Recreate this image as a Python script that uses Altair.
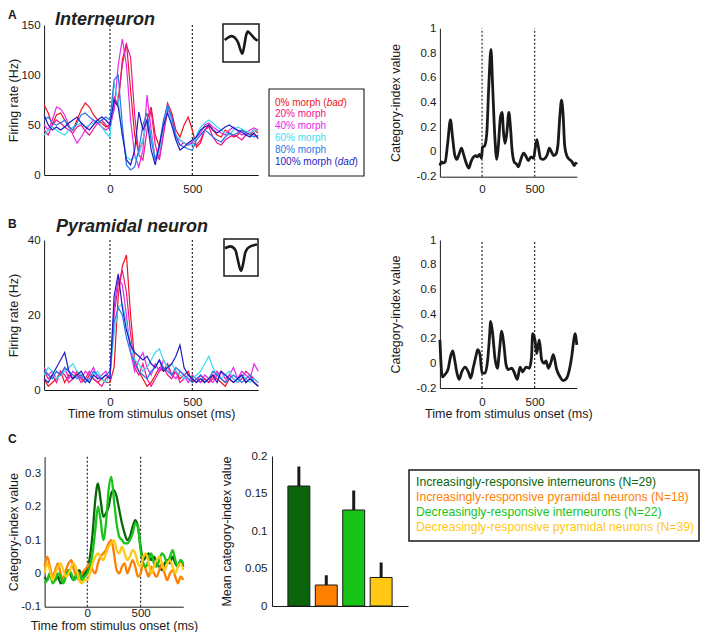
import altair as alt
import pandas as pd

FONT = "Liberation Sans"
INK = "#1a1a1a"
W, H = 692, 624

# ---------------- shared time grid (ms) ----------------
T25 = list(range(-400, 901, 25))

# ---------------- panel A/B: firing rates per morph level ----------------
MORPH_NAMES = ["0% morph", "20% morph", "40% morph", "60% morph", "80% morph", "100% morph"]
MORPH_COLORS = ["#f0141e", "#f0148c", "#e628e6", "#3cdcf0", "#2878eb", "#1e1ec3"]

A_0 = [70, 62, 50, 60, 62, 55, 48, 45, 55, 65, 72, 68, 60, 55, 52, 48,
       50, 78, 70, 115, 132, 85, 40, 22, 35, 55, 68, 40, 28, 50, 72, 62, 45, 38, 50, 58, 45,
       28, 32, 45, 50, 45, 40, 38, 45, 42, 38, 40, 45, 43, 40, 45, 42]
A_20 = [45, 40, 50, 55, 52, 48, 45, 42, 48, 50, 44, 40, 46, 52, 55, 50,
        46, 70, 75, 110, 130, 118, 60, 20, 15, 45, 65, 30, 15, 40, 65, 60, 40, 30, 32, 30, 32,
        30, 35, 45, 48, 38, 32, 30, 35, 38, 40, 38, 35, 40, 42, 40, 38]
A_40 = [50, 45, 55, 68, 66, 60, 50, 40, 32, 38, 45, 50, 55, 52, 48, 45,
        48, 65, 110, 136, 110, 55, 20, 8, 25, 80, 45, 15, 18, 45, 68, 55, 38, 35, 32, 30, 33,
        38, 42, 50, 52, 48, 45, 42, 40, 45, 48, 44, 40, 42, 45, 47, 45]
A_60 = [40, 45, 48, 45, 42, 40, 45, 48, 50, 52, 48, 50, 52, 55, 48, 42,
        38, 92, 75, 40, 18, 15, 18, 20, 35, 55, 40, 15, 25, 50, 70, 55, 40, 35, 32, 30, 30,
        40, 48, 52, 55, 52, 48, 45, 42, 40, 45, 48, 46, 44, 42, 45, 44]
A_80 = [55, 58, 52, 50, 52, 55, 48, 45, 52, 60, 62, 58, 55, 52, 55, 58,
        55, 95, 100, 50, 10, 5, 8, 25, 50, 62, 35, 15, 30, 55, 70, 58, 38, 30, 28, 26, 25,
        35, 40, 45, 42, 38, 35, 33, 38, 42, 40, 42, 45, 42, 40, 38, 40]
A_100 = [60, 50, 45, 48, 45, 48, 52, 55, 58, 52, 48, 45, 50, 55, 58, 55,
         50, 75, 68, 40, 15, 10, 25, 63, 45, 55, 25, 10, 30, 50, 62, 50, 35, 25, 28, 32, 35,
         38, 45, 48, 50, 45, 42, 45, 48, 50, 47, 45, 43, 40, 38, 42, 36]

B_0 = [3, 1, 2, 3, 5, 2, 4, 3, 5, 3, 2, 4, 3, 2, 3, 2,
       2, 6, 25, 33, 36, 20, 8, 5, 3, 1, 2, 4, 6, 5, 7, 4, 5, 3, 4, 5, 2,
       3, 2, 3, 2, 4, 3, 2, 1, 3, 2, 3, 4, 2, 3, 2, 1]
B_20 = [5, 3, 4, 2, 5, 4, 2, 3, 4, 2, 3, 5, 3, 2, 1, 3,
        4, 20, 28, 32, 26, 15, 6, 4, 7, 3, 1, 3, 5, 6, 4, 3, 5, 2, 3, 4, 3,
        2, 4, 3, 2, 3, 5, 3, 2, 4, 3, 2, 3, 5, 4, 3, 2]
B_40 = [6, 4, 5, 3, 4, 6, 3, 5, 4, 3, 5, 4, 6, 3, 4, 5,
        3, 22, 30, 28, 20, 10, 5, 8, 10, 6, 4, 7, 5, 8, 6, 4, 3, 5, 4, 2, 4,
        3, 2, 4, 3, 2, 4, 5, 3, 4, 6, 3, 5, 4, 3, 7, 5]
B_60 = [4, 6, 5, 3, 4, 5, 6, 7, 5, 4, 3, 2, 4, 5, 3, 2,
        4, 15, 22, 23, 18, 12, 8, 7, 5, 6, 8, 10, 11, 8, 6, 7, 5, 4, 3, 4, 3,
        4, 5, 7, 9, 6, 4, 3, 4, 5, 3, 2, 4, 3, 2, 3, 2]
B_80 = [5, 4, 3, 5, 4, 6, 5, 4, 3, 4, 2, 3, 5, 4, 3, 4,
        5, 18, 22, 20, 14, 10, 7, 5, 4, 3, 5, 6, 8, 6, 5, 4, 6, 5, 4, 3, 2,
        3, 4, 2, 3, 5, 4, 3, 2, 3, 4, 3, 2, 3, 4, 2, 1]
B_100 = [3, 2, 4, 6, 8, 10, 5, 3, 4, 5, 3, 2, 4, 3, 3, 4,
         3, 25, 31, 22, 16, 12, 10, 9, 8, 9, 7, 6, 8, 5, 6, 7, 9, 12, 6, 4, 3,
         2, 3, 2, 3, 4, 2, 5, 4, 3, 2, 3, 4, 2, 3, 2, 1]

# ---------------- category-index traces ----------------
CI_A_T = [-400, -385, -370, -350, -325, -300, -280, -260, -240, -215, -195, -175, -150, -125, -105,
          -80, -60, -45, -25, -5, 5, 25, 45, 65, 85, 100, 120, 140, 155, 175, 190, 205, 218, 235,
          255, 270, 285, 305, 330, 345, 365, 395, 415, 440, 465, 490, 505, 520, 535, 555, 580, 600,
          620, 640, 660, 680, 700, 720, 740, 755, 770, 785, 805, 830, 855, 875, 890, 900]
CI_A_V = [-0.11, -0.08, -0.09, -0.08, 0.08, 0.26, 0.12, -0.02, -0.06, -0.01, 0.03, -0.02, -0.09, -0.13, -0.08,
          -0.04, -0.03, -0.04, -0.02, -0.05, 0.04, 0.05, 0.15, 0.55, 0.83, 0.55, 0.15, -0.06, 0.05, 0.28,
          0.32, 0.15, 0.07, 0.15, 0.32, 0.2, 0.02, -0.08, -0.1, -0.12, -0.07, -0.01, -0.03, -0.07, -0.04,
          -0.05, 0.03, 0.1, 0.04, -0.05, -0.06, -0.05, -0.02, 0.03, 0.0, -0.03, -0.02, 0.05, 0.3, 0.42,
          0.3, 0.05, -0.03, -0.06, -0.08, -0.11, -0.09, -0.1]
CI_B_T = [-400, -377, -351, -320, -300, -278, -262, -240, -218, -193, -161, -130, -108, -82, -60,
          -41, -19, 0, 28, 54, 70, 82, 101, 123, 146, 165, 187, 209, 228, 250, 282, 304, 335, 361,
          386, 418, 449, 470, 481, 503, 519, 544, 566, 589, 608, 630, 655, 677, 709, 741, 772, 804,
          830, 851, 870, 883, 900]
CI_B_V = [0.19, -0.11, -0.09, -0.04, 0.05, 0.1, 0.04, -0.07, -0.13, -0.07, -0.03, -0.07, -0.12, -0.03, 0.05,
          0.11, 0.07, -0.08, -0.08, 0.03, 0.2, 0.34, 0.24, 0.04, -0.04, 0.1, 0.26, 0.14, -0.01, -0.05,
          -0.04, -0.07, -0.13, -0.03, -0.07, -0.03, -0.04, 0.05, 0.24, 0.19, 0.08, 0.19, 0.03, 0.0, 0.02,
          -0.04, 0.01, 0.07, -0.05, -0.11, -0.14, -0.12, -0.05, 0.05, 0.18, 0.24, 0.15]

# ---------------- panel C: population category index ----------------
C_NAMES = ["Increasingly-responsive interneurons (N=29)",
           "Increasingly-responsive pyramidal neurons (N=18)",
           "Decreasingly-responsive interneurons (N=22)",
           "Decreasingly-responsive pyramidal neurons (N=39)"]
C_COLORS = ["#0b660b", "#ff8000", "#17c417", "#ffc814"]

C_INC_INT = [-0.01, -0.02, 0.0, -0.01, -0.02, -0.01, -0.03, -0.02, 0.0, 0.01, -0.01, -0.02, 0.0, 0.01, -0.01, 0.0,
             0.01, 0.05, 0.12, 0.22, 0.27, 0.22, 0.17, 0.18, 0.2, 0.24, 0.25, 0.23, 0.19, 0.15, 0.12, 0.1,
             0.11, 0.14, 0.16, 0.14, 0.08,
             0.04, 0.05, 0.06, 0.04, 0.05, 0.03, 0.02, 0.01, 0.03, 0.04, 0.03, 0.05, 0.03, 0.02, 0.04, 0.02]
C_INC_PYR = [0.02, 0.05, 0.02, -0.01, 0.01, 0.03, 0.0, -0.02, 0.01, 0.03, 0.04, 0.01, -0.01, -0.02, 0.0, 0.01,
             0.02, 0.03, 0.01, 0.0, 0.03, 0.05, 0.06, 0.07, 0.09, 0.1, 0.06, 0.01, 0.0, 0.02, 0.03, 0.0,
             0.02, 0.04, 0.02, -0.01, 0.0,
             0.03, 0.01, -0.01, 0.02, 0.0, -0.01, 0.01, 0.03, 0.0, -0.02, 0.0, 0.01, -0.01, -0.03, -0.01, -0.02]
C_DEC_INT = [-0.03, -0.02, 0.0, -0.03, -0.02, 0.0, -0.01, -0.03, -0.01, 0.01, 0.0, -0.02, -0.01, 0.0, -0.02, -0.01,
             0.0, 0.02, 0.06, 0.13, 0.2, 0.16, 0.1, 0.15, 0.25, 0.29, 0.22, 0.15, 0.11, 0.1, 0.09, 0.09,
             0.1, 0.12, 0.15, 0.14, 0.07,
             0.03, 0.02, 0.04, 0.06, 0.03, 0.02, 0.04, 0.06, 0.05, 0.03, 0.05, 0.07, 0.04, 0.02, 0.04, 0.03]
C_DEC_PYR = [0.0, 0.03, 0.01, -0.02, 0.0, 0.02, 0.03, 0.01, -0.01, 0.0, 0.02, 0.03, 0.01, -0.02, -0.03, -0.02,
             -0.02, 0.0, 0.03, 0.05, 0.06, 0.05, 0.04, 0.06, 0.08, 0.09, 0.1, 0.07, 0.06, 0.08, 0.06, 0.04,
             0.05, 0.07, 0.06, 0.03, 0.02,
             0.05, 0.06, 0.03, 0.0, 0.02, 0.04, 0.05, 0.03, 0.01, 0.03, 0.04, 0.02, 0.0, 0.02, 0.03, 0.01]

BAR_MEAN = [0.16, 0.028, 0.128, 0.038]
BAR_ERR = [0.186, 0.041, 0.154, 0.058]

# ---------------- spike waveform insets ----------------
WF_INT_U = [0.02, 0.12, 0.22, 0.32, 0.42, 0.48, 0.54, 0.6, 0.65, 0.7, 0.78, 0.9, 0.99]
WF_INT_V = [0.58, 0.64, 0.68, 0.64, 0.5, 0.33, 0.22, 0.45, 0.7, 0.8, 0.74, 0.62, 0.56]
WF_PYR_U = [0.0, 0.17, 0.32, 0.39, 0.45, 0.5, 0.56, 0.63, 0.71, 0.85, 1.0]
WF_PYR_V = [0.75, 0.8, 0.71, 0.48, 0.25, 0.14, 0.3, 0.62, 0.75, 0.82, 0.85]

LABEL_EXPR = "datum.value < 0 ? '-' + format(-datum.value, '~g') : format(datum.value, '~g')"


def long_df(times, names, arrays):
    rows = []
    for name, vals in zip(names, arrays):
        for t, v in zip(times, vals):
            rows.append({"t": t, "v": v, "s": name})
    return pd.DataFrame(rows)


def lin(domain, rng):
    return alt.Scale(domain=domain, range=rng, nice=False, zero=False)


def time_panel(df, xr, yr, ydom, yvals, ytitle, ytitle_x, xlab_pad, lw, interp,
               names=None, colors=None, xtitle=None, xtitle_y=None):
    xkw = dict(orient="bottom", offset=yr[0] - H, values=[0, 500], format="d",
               labelPadding=xlab_pad, ticks=False, grid=False)
    if xtitle:
        xkw["title"] = xtitle
        xkw["titleY"] = xtitle_y
    else:
        xkw["title"] = ""
    ykw = dict(orient="left", offset=-xr[0], values=yvals, labelExpr=LABEL_EXPR,
               labelPadding=4, title=ytitle, titleX=ytitle_x, ticks=False, grid=False)
    rules_df = pd.DataFrame({"t": [0, 500], "lo": [ydom[0]] * 2, "hi": [ydom[1]] * 2})
    rules = alt.Chart(rules_df).mark_rule(strokeDash=[2, 2], strokeWidth=1.1, color=INK).encode(
        x=alt.X("t:Q", scale=lin([-400, 900], xr), axis=None),
        y=alt.Y("lo:Q", scale=lin(ydom, yr), axis=None),
        y2="hi:Q")
    enc = dict(x=alt.X("t:Q", scale=lin([-400, 900], xr), axis=alt.Axis(**xkw)),
               y=alt.Y("v:Q", scale=lin(ydom, yr), axis=alt.Axis(**ykw)))
    if names:
        enc["color"] = alt.Color("s:N", scale=alt.Scale(domain=names, range=colors), legend=None)
        line = alt.Chart(df).mark_line(strokeWidth=lw, interpolate=interp).encode(**enc)
    else:
        line = alt.Chart(df).mark_line(strokeWidth=lw, interpolate=interp, color=INK).encode(**enc)
    return [rules, line]


def one_row():
    return pd.DataFrame({"k": [0]})


def label(text, x, y, size, weight="normal", style="normal", align="left", color=INK):
    return alt.Chart(one_row()).mark_text(
        text=text, font=FONT, fontSize=size, fontWeight=weight, fontStyle=style,
        align=align, baseline="alphabetic", color=color
    ).encode(x=alt.value(x), y=alt.value(y))


def box(x0, x1, y0, y1, sw=1.2):
    return alt.Chart(one_row()).mark_rect(fill="white", stroke=INK, strokeWidth=sw).encode(
        x=alt.value(x0), x2=alt.value(x1), y=alt.value(y0), y2=alt.value(y1))


def waveform(u, v, x0, x1, y0, y1):
    df = pd.DataFrame({"u": u, "v": v})
    return alt.Chart(df).mark_line(color=INK, strokeWidth=2.6, interpolate="monotone").encode(
        x=alt.X("u:Q", scale=lin([0, 1], [x0 + 1, x1 - 1]), axis=None),
        y=alt.Y("v:Q", scale=lin([0, 1], [y1, y0]), axis=None))


# ---------------- panels ----------------
XR_L = [36.1, 250.2]
XR_R = [431.9, 568.8]

panel_a_left = time_panel(long_df(T25, MORPH_NAMES, [A_0, A_20, A_40, A_60, A_80, A_100]),
                          XR_L, [167, 17], [0, 150], [0, 50, 100, 150],
                          "Firing rate (Hz)", -23.3, 8, 1.2, "linear",
                          names=MORPH_NAMES, colors=MORPH_COLORS)
panel_b_left = time_panel(long_df(T25, MORPH_NAMES, [B_0, B_20, B_40, B_60, B_80, B_100]),
                          XR_L, [382, 232], [0, 40], [0, 20, 40],
                          "Firing rate (Hz)", -23.3, 6, 1.2, "linear",
                          names=MORPH_NAMES, colors=MORPH_COLORS,
                          xtitle="Time from stimulus onset (ms)", xtitle_y=17)
panel_a_right = time_panel(pd.DataFrame({"t": CI_A_T, "v": CI_A_V}),
                           XR_R, [168.7, 20.3], [-0.2, 1], [-0.2, 0, 0.2, 0.4, 0.6, 0.8, 1],
                           "Category-index value", -37.4, 6.5, 2.8, "monotone")
panel_b_right = time_panel(pd.DataFrame({"t": CI_B_T, "v": CI_B_V}),
                           XR_R, [380, 232], [-0.2, 1], [-0.2, 0, 0.2, 0.4, 0.6, 0.8, 1],
                           "Category-index value", -37.4, 8, 2.8, "monotone",
                           xtitle="Time from stimulus onset (ms)", xtitle_y=19)
panel_c_left = time_panel(long_df(T25, C_NAMES, [C_INC_INT, C_INC_PYR, C_DEC_INT, C_DEC_PYR]),
                          [36.6, 175.3], [598.7, 448.7], [-0.1, 0.35], [-0.1, 0, 0.1, 0.2, 0.3],
                          "Category-index value", -23.8, 0.8, 2.3, "monotone",
                          names=C_NAMES, colors=C_COLORS,
                          xtitle="Time from stimulus onset (ms)", xtitle_y=12.4)

# bar chart
bar_df = pd.DataFrame({"g": C_NAMES, "m": BAR_MEAN, "e": BAR_ERR})


def bx():
    return alt.Scale(domain=C_NAMES, range=[264, 400], paddingInner=0.2, paddingOuter=0.58)


bars = alt.Chart(bar_df).mark_bar(stroke=INK, strokeWidth=1).encode(
    x=alt.X("g:N", scale=bx(), axis=alt.Axis(orient="bottom", offset=598 - H, labels=False,
                                             ticks=False, grid=False, title="")),
    y=alt.Y("m:Q", scale=lin([0, 0.2], [598, 448]),
            axis=alt.Axis(orient="left", offset=-264, values=[0, 0.05, 0.1, 0.15, 0.2],
                          labelExpr=LABEL_EXPR, labelPadding=5, ticks=False, grid=False,
                          title="Mean category-index value", titleX=-38.2)),
    color=alt.Color("g:N", scale=alt.Scale(domain=C_NAMES, range=C_COLORS), legend=None))
errs = alt.Chart(bar_df).mark_rule(strokeWidth=3, color=INK).encode(
    x=alt.X("g:N", scale=bx(), axis=None),
    y=alt.Y("m:Q", scale=lin([0, 0.2], [598, 448]), axis=None),
    y2="e:Q")

# legend for A
LEG_A_LABELS = ["0% morph (", "20% morph", "40% morph", "60% morph", "80% morph", "100% morph ("]
LEG_X = 267


def leg_a_piece(names, texts, x, style="normal"):
    df = pd.DataFrame({"s": names, "label": texts})
    return alt.Chart(df).mark_text(align="left", baseline="middle", fontSize=10, font=FONT,
                                   fontStyle=style).encode(
        x=alt.value(x),
        y=alt.Y("s:N", scale=alt.Scale(type="point", domain=MORPH_NAMES, range=[94.5, 153.5], padding=0),
                axis=None),
        text="label:N",
        color=alt.Color("s:N", scale=alt.Scale(domain=MORPH_NAMES, range=MORPH_COLORS), legend=None))


leg_a = [
    box(261, 356, 81, 168, 1.1),
    leg_a_piece(MORPH_NAMES, LEG_A_LABELS, LEG_X),
    leg_a_piece(["0% morph"], ["bad"], LEG_X + 51.7, "italic"),
    leg_a_piece(["0% morph"], [")"], LEG_X + 68.4),
    leg_a_piece(["100% morph"], ["dad"], LEG_X + 62.8, "italic"),
    leg_a_piece(["100% morph"], [")"], LEG_X + 79.5),
]

# legend for C
legC_df = pd.DataFrame({"s": C_NAMES})
leg_c = [
    box(401, 691, 462, 533, 1.5),
    alt.Chart(legC_df).mark_text(align="left", baseline="middle", fontSize=12.2, font=FONT).encode(
        x=alt.value(408),
        y=alt.Y("s:N", scale=alt.Scale(type="point", domain=C_NAMES, range=[474, 519], padding=0), axis=None),
        text="s:N",
        color=alt.Color("s:N", scale=alt.Scale(domain=C_NAMES, range=C_COLORS), legend=None)),
]

insets = [
    box(215, 251, 16, 54, 1.5),
    waveform(WF_INT_U, WF_INT_V, 215, 251, 16, 54),
    box(216, 250, 231, 268, 1.5),
    waveform(WF_PYR_U, WF_PYR_V, 216, 250, 231, 268),
]

titles = [
    label("A", 0, 11, 12, weight="bold"),
    label("Interneuron", 47, 17, 18, weight="bold", style="italic", color="#222222"),
    label("B", 0, 220, 12, weight="bold"),
    label("Pyramidal neuron", 48, 224, 18, weight="bold", style="italic", color="#222222"),
    label("C", 0, 435, 12, weight="bold"),
]

layers = (panel_a_left + panel_a_right + panel_b_left + panel_b_right + panel_c_left
          + [bars, errs] + leg_a + leg_c + insets + titles)

chart = alt.layer(*layers).resolve_scale(
    x="independent", y="independent", color="independent"
).resolve_axis(
    x="independent", y="independent"
).properties(
    width=W, height=H, autosize=alt.AutoSizeParams(type="none"), padding=0
).configure_view(
    stroke=None
).configure_axis(
    labelFont=FONT, labelFontSize=11.5, labelColor=INK,
    titleFont=FONT, titleFontSize=12.5, titleColor=INK, titleFontWeight="normal",
    domainColor=INK, domainWidth=1
)

chart.save("out.html", embed_options={"renderer": "svg", "actions": False})
